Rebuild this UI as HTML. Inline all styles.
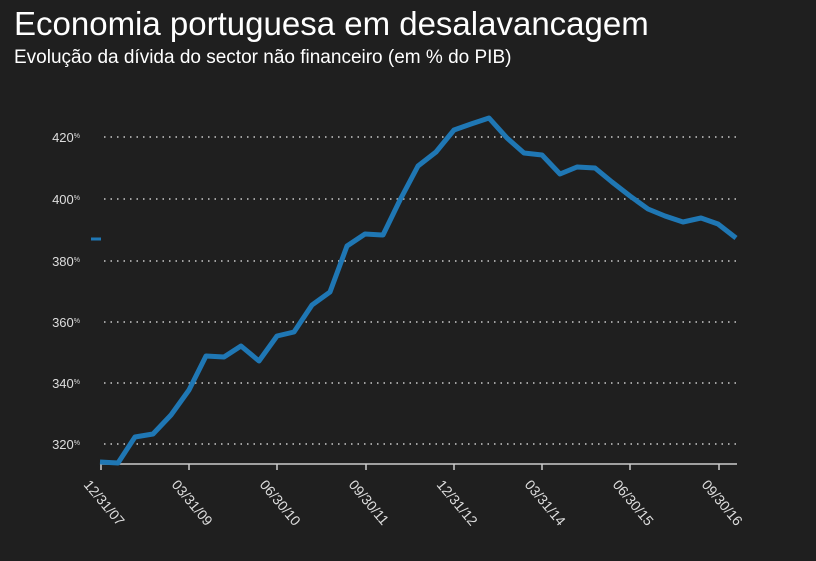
<!DOCTYPE html>
<html><head><style>
body{margin:0;background:#1f1f1f;}
.t{position:absolute;left:14px;top:5px;color:#fff;font:33px "Liberation Sans",sans-serif;}
.s{position:absolute;left:14px;top:47px;color:#fff;font:19px "Liberation Sans",sans-serif;}
</style></head><body>
<div style="position:relative;width:816px;height:561px;overflow:hidden">
<div class="t">Economia portuguesa em desalavancagem</div>
<div class="s">Evolução da dívida do sector não financeiro (em % do PIB)</div>
<svg width="816" height="561" style="position:absolute;left:0;top:0" font-family="Liberation Sans,sans-serif">
<g stroke="#ccc" stroke-width="1.5" stroke-dasharray="1.5,5">
<line x1="104" y1="137" x2="737" y2="137"/><line x1="104" y1="199" x2="737" y2="199"/>
<line x1="104" y1="261" x2="737" y2="261"/><line x1="104" y1="322" x2="737" y2="322"/>
<line x1="104" y1="383" x2="737" y2="383"/><line x1="104" y1="444" x2="737" y2="444"/>
</g>
<g fill="#ddd" font-size="13" text-anchor="end">
<text x="80" y="142">420<tspan font-size="7" dy="-4">%</tspan></text>
<text x="80" y="204">400<tspan font-size="7" dy="-4">%</tspan></text>
<text x="80" y="266">380<tspan font-size="7" dy="-4">%</tspan></text>
<text x="80" y="327">360<tspan font-size="7" dy="-4">%</tspan></text>
<text x="80" y="388">340<tspan font-size="7" dy="-4">%</tspan></text>
<text x="80" y="449">320<tspan font-size="7" dy="-4">%</tspan></text>
</g>
<line x1="100" y1="464" x2="737" y2="464" stroke="#ccc" stroke-width="1.5"/>
<g stroke="#ccc" stroke-width="1.5">
<line x1="101" y1="464" x2="101" y2="470"/><line x1="189" y1="464" x2="189" y2="470"/>
<line x1="277" y1="464" x2="277" y2="470"/><line x1="366" y1="464" x2="366" y2="470"/>
<line x1="454" y1="464" x2="454" y2="470"/><line x1="542" y1="464" x2="542" y2="470"/>
<line x1="630" y1="464" x2="630" y2="470"/><line x1="719" y1="464" x2="719" y2="470"/>
</g>
<g fill="#ddd" font-size="14">
<text transform="translate(83,485) rotate(50)">12/31/07</text>
<text transform="translate(171,485) rotate(50)">03/31/09</text>
<text transform="translate(259,485) rotate(50)">06/30/10</text>
<text transform="translate(348,485) rotate(50)">09/30/11</text>
<text transform="translate(436,485) rotate(50)">12/31/12</text>
<text transform="translate(524,485) rotate(50)">03/31/14</text>
<text transform="translate(612,485) rotate(50)">06/30/15</text>
<text transform="translate(701,485) rotate(50)">09/30/16</text>
</g>
<line x1="91" y1="239" x2="101" y2="239" stroke="#1f77b4" stroke-width="3"/>
<polyline fill="none" stroke="#1f77b4" stroke-width="5" stroke-linejoin="round" points="100,462 118,463 135,437 153,434 171,415 189,390 206,356 224,357 241,346 259,361 277,336 294,332 312,305 330,292 347,246 365,234 383,235 400,200 418,166 436,152 454,130 471,124 489,118 507,138 524,153 542,155 560,174 577,167 595,168 612,182 630,196 648,209 665,216 683,222 701,218 718,224 736,238"/>
</svg>
</div>
</body></html>
